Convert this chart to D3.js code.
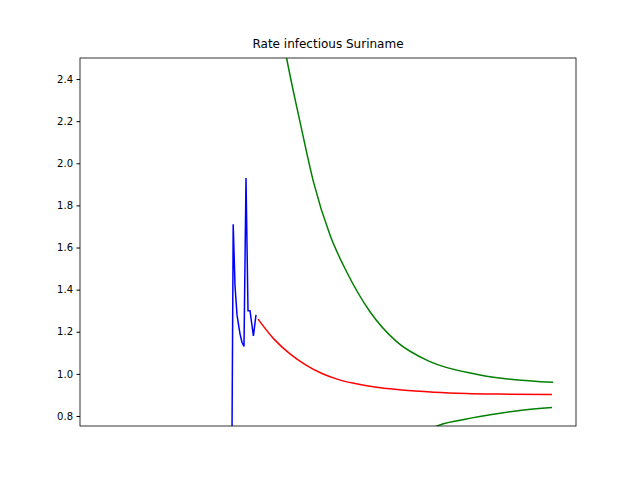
<!DOCTYPE html>
<html><head><meta charset="utf-8">
<script src="https://cdn.jsdelivr.net/npm/d3@7"></script>
<style>body{margin:0;background:#fff}text{font-family:"DejaVu Sans",sans-serif}</style>
</head><body><div id="chart"></div>
<script>
// observed rate (day, value)
const blueDays = [76, 76.6, 77.5, 78.5, 80, 81, 82, 83, 84, 85, 86.7, 88];
const blueVals = [0.70, 1.71, 1.42, 1.28, 1.19, 1.15, 1.13, 1.93, 1.30, 1.30, 1.18, 1.28];
// projected rate
const redDays = [89, 97, 105, 113, 121, 129, 137, 145, 161, 177, 193, 209, 236];
const redVals = [1.26, 1.165, 1.095, 1.042, 1.002, 0.974, 0.955, 0.941, 0.923, 0.913, 0.907, 0.904, 0.902];
// bounds
const upDays = [101, 103.3, 110, 116.7, 125, 133.3, 145, 158.3, 175, 200, 236.6];
const upVals = [2.62, 2.5, 2.197, 1.913, 1.659, 1.485, 1.295, 1.153, 1.058, 0.995, 0.960];
const loDays = [176, 178, 190, 205, 220, 236];
const loVals = [0.74, 0.75, 0.78, 0.806, 0.826, 0.84];
const yTicks = [0.8, 1.0, 1.2, 1.4, 1.6, 1.8, 2.0, 2.2, 2.4];

const W = 640, H = 480;
const m = {top: 58, right: 64, bottom: 54, left: 80};
const svg = d3.select("#chart").append("svg").attr("width", W).attr("height", H);

const x = d3.scaleLinear().domain([0, 248]).range([m.left, W - m.right]);
const y = d3.scaleLinear().domain([0.7525, 2.5]).range([H - m.bottom, m.top]);

svg.append("clipPath").attr("id", "clip").append("rect")
    .attr("x", m.left).attr("y", m.top)
    .attr("width", W - m.left - m.right).attr("height", H - m.top - m.bottom);

const line = d3.line().x(d => x(d[0])).y(d => y(d[1]));
const smooth = d3.line().x(d => x(d[0])).y(d => y(d[1])).curve(d3.curveMonotoneX);
const zip = (a, b) => a.map((d, i) => [d, b[i]]);

const g = svg.append("g").attr("clip-path", "url(#clip)");
g.append("path").datum(zip(blueDays, blueVals)).attr("d", line)
    .attr("fill", "none").attr("stroke", "#0000ff").attr("stroke-width", 1.5);
g.append("path").datum(zip(redDays, redVals)).attr("d", smooth)
    .attr("fill", "none").attr("stroke", "#ff0000").attr("stroke-width", 1.5);
g.append("path").datum(zip(upDays, upVals)).attr("d", smooth)
    .attr("fill", "none").attr("stroke", "#008000").attr("stroke-width", 1.5);
g.append("path").datum(zip(loDays, loVals)).attr("d", smooth)
    .attr("fill", "none").attr("stroke", "#008000").attr("stroke-width", 1.5);

const ya = svg.append("g").attr("transform", `translate(${m.left},0)`)
    .call(d3.axisLeft(y).tickValues(yTicks).tickFormat(d3.format(".1f")).tickSize(3.5).tickPadding(3.5));
ya.select(".domain").remove();
ya.selectAll("text").attr("font-size", 10).attr("fill", "#000").attr("font-family", "DejaVu Sans");
ya.selectAll("line").attr("stroke", "#000");

svg.append("rect").attr("x", m.left).attr("y", m.top)
    .attr("width", W - m.left - m.right).attr("height", H - m.top - m.bottom)
    .attr("fill", "none").attr("stroke", "#000").attr("stroke-width", 0.8);

svg.append("text").attr("x", (m.left + W - m.right) / 2).attr("y", 48)
    .attr("text-anchor", "middle").attr("font-size", 12).text("Rate infectious Suriname");
</script></body></html>
